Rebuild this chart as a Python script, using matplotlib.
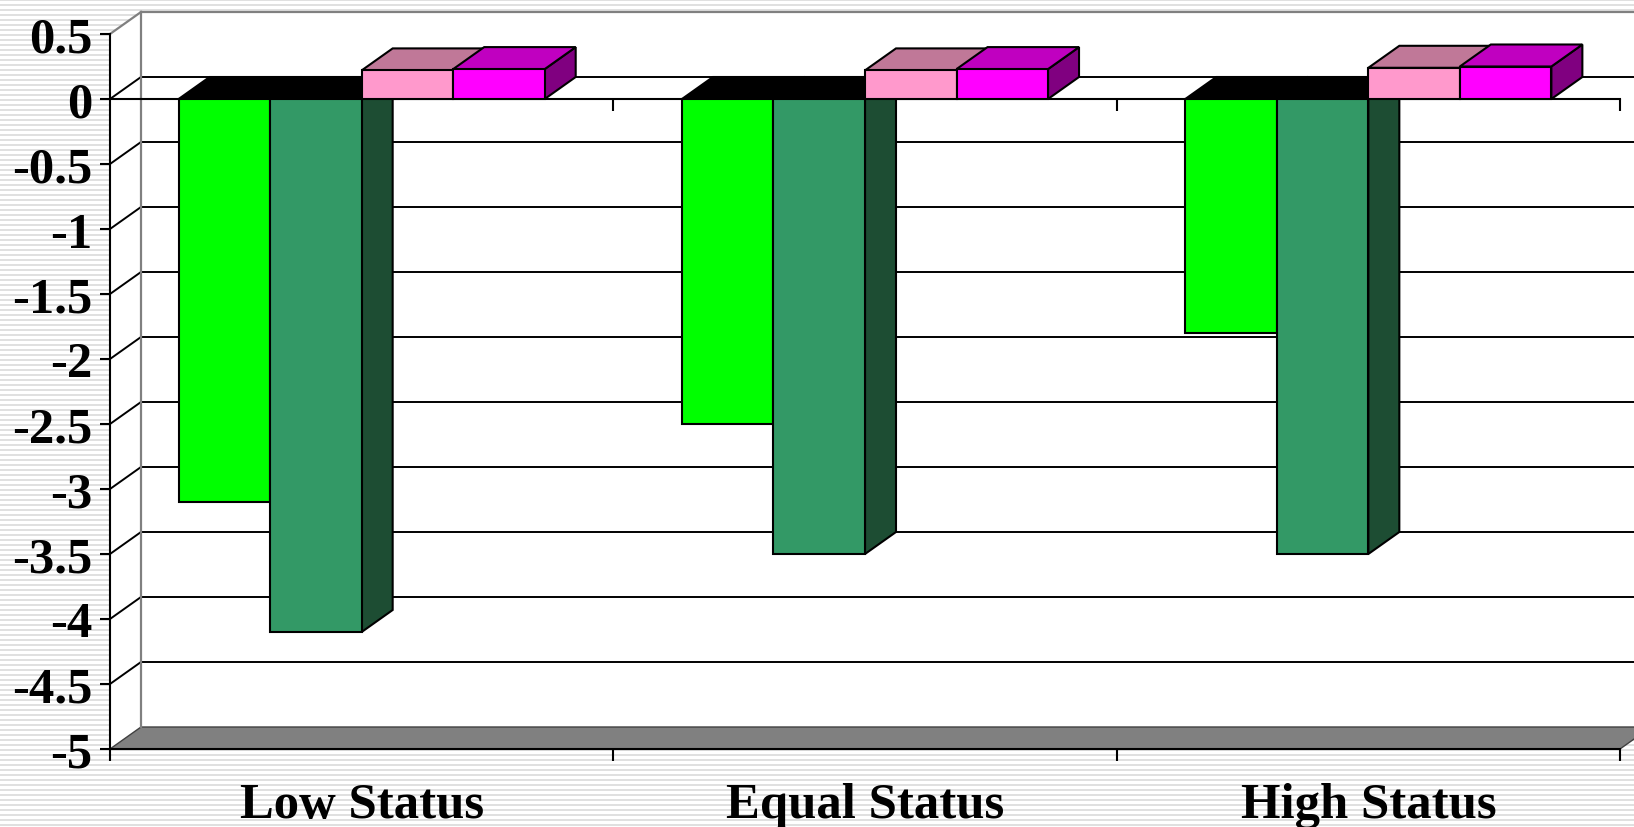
import numpy as np
import matplotlib.pyplot as plt
from matplotlib.patches import Polygon

plt.rcParams['font.family'] = ['Liberation Serif', 'DejaVu Serif']
plt.rcParams['font.weight'] = 'bold'

# data
categories = ["Low Status", "Equal Status", "High Status"]
green_vals = [-3.1, -2.5, -1.8]
seagreen_vals = [-4.1, -3.5, -3.5]
pink_vals = [0.22, 0.22, 0.24]
magenta_vals = [0.23, 0.23, 0.25]
yticks = [-5, -4.5, -4, -3.5, -3, -2.5, -2, -1.5, -1, -0.5, 0, 0.5]
ytick_labels = ["-5", "-4.5", "-4", "-3.5", "-3", "-2.5", "-2", "-1.5", "-1", "-0.5", "0", "0.5"]

series = [green_vals, seagreen_vals, pink_vals, magenta_vals]
front_cols = ["#00ff00", "#339966", "#ff99cc", "#ff00ff"]
top_cols = ["#00cc00", "#297a52", "#c07898", "#c000c0"]
side_cols = ["#009900", "#1d4d33", "#99607c", "#800080"]

W, H = 1634, 828
fig = plt.figure(figsize=(W / 100, H / 100), dpi=100)

# striped background
bg = fig.add_axes([0, 0, 1, 1], zorder=-1)
bg.set_xlim(0, 1)
bg.set_ylim(0, H)
bg.hlines(np.arange(2, H, 5), 0, 1, color="#e0e0e0", lw=1.4)
bg.axis("off")

ax = fig.add_axes([110 / W, 78 / H, 1510 / W, 715 / H])
ax.set_xlim(0, 3)
ax.set_ylim(-5, 0.5)
ax.patch.set_alpha(0)

# depth of the 3d box, in data units
o = ax.transData.transform((0, 0))
DX, DY = ax.transData.inverted().transform(o + np.array([31, 22]))
tick_dy = DY * 12 / 22

ymin, ymax = -5, 0.5
xr = 3 + DX + 0.2

# back wall
ax.add_patch(Polygon([(DX, ymin + DY), (xr, ymin + DY), (xr, ymax + DY), (DX, ymax + DY)],
                     closed=True, fc="white", ec="none", zorder=0.5, clip_on=False))
# left wall
ax.add_patch(Polygon([(0, ymin), (0, ymax), (DX, ymax + DY), (DX, ymin + DY)],
                     closed=True, fc="white", ec="none", zorder=0.5, clip_on=False))
ax.plot([DX, DX], [ymin + DY, ymax + DY], color="#808080", lw=1.6, zorder=0.9, clip_on=False)
ax.plot([DX, xr], [ymax + DY, ymax + DY], color="#808080", lw=1.6, zorder=0.9, clip_on=False)
ax.plot([0, DX], [ymax, ymax + DY], color="#808080", lw=1.6, zorder=0.9, clip_on=False)

# floor
ax.add_patch(Polygon([(0, ymin), (3, ymin), (3 + DX, ymin + DY), (DX, ymin + DY)],
                     closed=True, fc="#808080", ec="#404040", lw=1.0, zorder=0.7, clip_on=False))

# gridlines on the walls
for v in yticks[1:-1]:
    ax.plot([DX, xr], [v + DY, v + DY], color="black", lw=1.4, zorder=0.8, clip_on=False)
    ax.plot([0, DX], [v, v + DY], color="black", lw=1.4, zorder=0.8, clip_on=False)

# category axis at zero
ax.plot([0, 3], [0, 0], color="black", lw=1.5, zorder=0.9, clip_on=False)
ax.vlines([1, 2, 3], -tick_dy, 0, color="black", lw=1.5, zorder=0.9, clip_on=False)

# bars
w = 1 / 5.5
for c in range(len(categories)):
    for i, vals in enumerate(series):
        v = vals[c]
        xl = c + 0.5 - 2 * w + i * w
        xr_b = xl + w
        z = 3 + c * 4 + i
        # side face
        ax.add_patch(Polygon([(xr_b, 0), (xr_b, v), (xr_b + DX, v + DY), (xr_b + DX, DY)],
                             closed=True, fc=side_cols[i], ec="black", lw=1.5, zorder=z))
        # top face
        yt = max(v, 0)
        tc = top_cols[i] if v >= 0 else "black"
        ax.add_patch(Polygon([(xl, yt), (xr_b, yt), (xr_b + DX, yt + DY), (xl + DX, yt + DY)],
                             closed=True, fc=tc, ec="black", lw=1.5, zorder=z))
        # front face
        ax.add_patch(Polygon([(xl, 0), (xr_b, 0), (xr_b, v), (xl, v)],
                             closed=True, fc=front_cols[i], ec="black", lw=1.5, zorder=z))

# axes
for s in ["top", "right"]:
    ax.spines[s].set_visible(False)
for s in ["left", "bottom"]:
    ax.spines[s].set_linewidth(1.5)
    ax.spines[s].set_zorder(1)

ax.set_yticks(yticks)
ax.set_yticklabels(ytick_labels)
ax.tick_params(axis="y", length=7.2, width=1.5, pad=5.5, labelsize=36.5)
ax.set_xticks([0, 1, 2, 3])
ax.set_xticklabels([])
ax.tick_params(axis="x", length=8.6, width=1.5)

for c, name in enumerate(categories):
    ax.annotate(name, (c + 0.5, ymin), xytext=(0, -49), textcoords="offset points",
                ha="center", va="baseline", fontsize=36.5, fontweight="bold")

fig.savefig("out.png", dpi=100)
